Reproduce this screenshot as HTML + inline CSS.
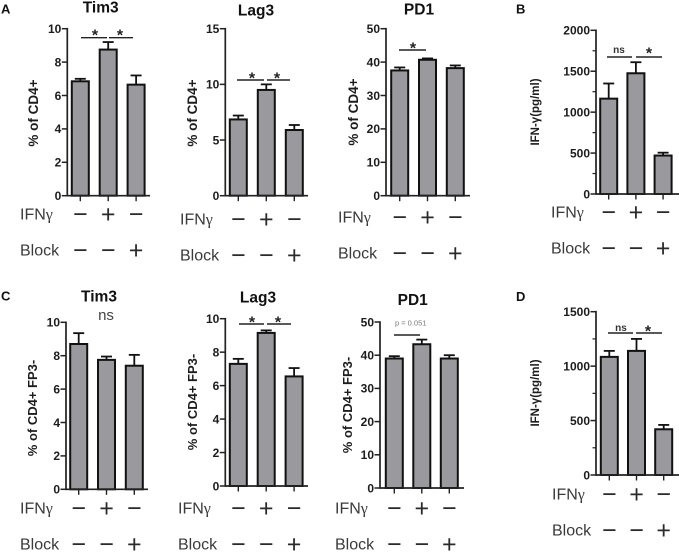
<!DOCTYPE html>
<html lang="en">
<head>
<meta charset="utf-8">
<title>Checkpoint receptor expression and IFN-γ panels</title>
<style>
html,body{margin:0;padding:0;background:#fff;}
svg{display:block;font-family:"Liberation Sans",sans-serif;filter:blur(0.3px);}
</style>
</head>
<body>
<svg id="figure" width="679" height="552" viewBox="0 0 679 552" xmlns="http://www.w3.org/2000/svg"></svg>
<script>
// Row markers shown under each chart
const ifnRow = ['−', '+', '−'];
const blockRow = ['−', '−', '+'];

// Panel A
const aTim3Values = [6.85, 8.75, 6.65];
const aTim3Upper = [7.0, 9.2, 7.2];
const aTim3Ticks = [0, 2, 4, 6, 8, 10];
const aLag3Values = [6.85, 9.5, 5.9];
const aLag3Upper = [7.2, 10.0, 6.35];
const aLag3Ticks = [0, 5, 10, 15];
const aPd1Values = [37.5, 40.7, 38.2];
const aPd1Upper = [38.4, 41.1, 39.0];
const aPd1Ticks = [0, 10, 20, 30, 40, 50];

// Panel B
const bIfnValues = [1165, 1475, 470];
const bIfnUpper = [1350, 1610, 505];
const bIfnTicks = [0, 500, 1000, 1500, 2000];
const bIfnMinorTicks = [250, 750, 1250, 1750];

// Panel C
const cTim3Values = [8.7, 7.75, 7.4];
const cTim3Upper = [9.35, 7.95, 8.05];
const cTim3Ticks = [0, 2, 4, 6, 8, 10];
const cLag3Values = [7.3, 9.15, 6.55];
const cLag3Upper = [7.6, 9.3, 7.05];
const cLag3Ticks = [0, 2, 4, 6, 8, 10];
const cPd1Values = [39, 43.3, 39];
const cPd1Upper = [39.7, 44.7, 40];
const cPd1Ticks = [0, 10, 20, 30, 40, 50];

// Panel D
const dIfnValues = [1085, 1140, 420];
const dIfnUpper = [1140, 1250, 460];
const dIfnTicks = [0, 500, 1000, 1500];
const dIfnMinorTicks = [250, 750, 1250];

const panels = [
  {id:'a-tim3', title:'Tim3', titleX:100.7, titleY:12.5, values:aTim3Values, upper:aTim3Upper, ticks:aTim3Ticks, minor:[],
   axisX:67.3, axisEnd:150, y0:195.7, yTop:28.7, first:80.3, step:27.9,
   yTitle:'% of CD4+', yTitleX:38, yTitleY:113, yTitleSize:13.5,
   rowX:20, ifnY:214, blockY:250,
   lines:[[81,107,37.7],[109,133,37.7]], stars:[[95,32],[120,32]]},
  {id:'a-lag3', title:'Lag3', titleX:256, titleY:15.5, values:aLag3Values, upper:aLag3Upper, ticks:aLag3Ticks, minor:[],
   axisX:225.3, axisEnd:308, y0:195.7, yTop:28.7, first:238.3, step:28,
   yTitle:'% of CD4+', yTitleX:197, yTitleY:113, yTitleSize:13.5,
   rowX:180, ifnY:219, blockY:255,
   lines:[[237,264,80],[267,290,80]], stars:[[252,75],[277,75]]},
  {id:'a-pd1', title:'PD1', titleX:419, titleY:14.5, values:aPd1Values, upper:aPd1Upper, ticks:aPd1Ticks, minor:[],
   axisX:386, axisEnd:470, y0:195.7, yTop:28.7, first:399.7, step:27.8,
   yTitle:'% of CD4+', yTitleX:358, yTitleY:112, yTitleSize:13.5,
   rowX:338, ifnY:217, blockY:253,
   lines:[[399,426,50]], stars:[[413,45]]},
  {id:'b-ifn', title:'', values:bIfnValues, upper:bIfnUpper, ticks:bIfnTicks, minor:bIfnMinorTicks,
   axisX:596, axisEnd:680, y0:194, yTop:30.3, first:608.7, step:27.2,
   yTitle:'IFN-γ(pg/ml)', yTitleX:539, yTitleY:112, yTitleSize:11.5,
   rowX:551, ifnY:212, blockY:248,
   lines:[[607,632,57],[636,662,57]], ns:[[619,50]], stars:[[649,50]]},
  {id:'c-tim3', title:'Tim3', titleX:99, titleY:301.5, values:cTim3Values, upper:cTim3Upper, ticks:cTim3Ticks, minor:[],
   axisX:66, axisEnd:148, y0:489.3, yTop:322.3, first:78.7, step:27.8,
   yTitle:'% of CD4+ FP3-', yTitleX:37, yTitleY:408, yTitleSize:13,
   rowX:20, ifnY:508, blockY:544,
   lines:[], stars:[], bigNs:[106,320]},
  {id:'c-lag3', title:'Lag3', titleX:258, titleY:302.7, values:cLag3Values, upper:cLag3Upper, ticks:cLag3Ticks, minor:[],
   axisX:225.3, axisEnd:308, y0:486, yTop:318.7, first:238.3, step:27.9,
   yTitle:'% of CD4+ FP3-', yTitleX:197, yTitleY:402, yTitleSize:13,
   rowX:178, ifnY:508, blockY:544,
   lines:[[239,264,324],[267,291,324]], stars:[[252,319],[278,319]]},
  {id:'c-pd1', title:'PD1', titleX:412.7, titleY:305, values:cPd1Values, upper:cPd1Upper, ticks:cPd1Ticks, minor:[],
   axisX:380, axisEnd:464, y0:488, yTop:322, first:394.3, step:27.5,
   yTitle:'% of CD4+ FP3-', yTitleX:352, yTitleY:405, yTitleSize:13,
   rowX:335, ifnY:508, blockY:544,
   lines:[[394,420,335]], stars:[], pValue:[410.7,325.5]},
  {id:'d-ifn', title:'', values:dIfnValues, upper:dIfnUpper, ticks:dIfnTicks, minor:dIfnMinorTicks,
   axisX:596, axisEnd:680, y0:475, yTop:311.7, first:609.3, step:27.2,
   yTitle:'IFN-γ(pg/ml)', yTitleX:539, yTitleY:393, yTitleSize:11.5,
   rowX:552, ifnY:494, blockY:530,
   lines:[[608,633,333],[636,662,333]], ns:[[621,328]], stars:[[648,328]]}
];

const letters = [['A',1,13.5],['B',516,13.5],['C',1,300.5],['D',516,301]];

const SVG_NS = 'http://www.w3.org/2000/svg';
const root = document.getElementById('figure');

function svgEl(tag, attrs, parent, content) {
  const node = document.createElementNS(SVG_NS, tag);
  for (const key in attrs) node.setAttribute(key, attrs[key]);
  if (content !== undefined) node.textContent = content;
  parent.appendChild(node);
  return node;
}

function drawRow(group, p, label, marks, y, rowName) {
  const text = svgEl('text', {x:p.rowX, y:y + 5.5, 'font-size':16, fill:'#3a3a3a'}, group);
  
  
  if (label === 'IFN') {
    svgEl('tspan', {}, text, 'IFN');
    svgEl('tspan', {'font-family':'"Liberation Serif",serif'}, text, 'γ');
  } else {
    text.textContent = label;
  }
  marks.forEach(function (mark, i) {
    const glyph = svgEl('text', {x:p.first + i * p.step, y:y + 8.5, 'font-size':25, 'text-anchor':'middle', fill:'#2a2a2a'}, group, mark);
    
    
  });
}

letters.forEach(function (item) {
  const letter = svgEl('text', {x:item[1], y:item[2], 'font-size':13, 'font-weight':'bold', fill:'#111'}, root, item[0]);
  
  
});

panels.forEach(function (p) {
  const group = svgEl('g', {}, root);
  
  

  const yMax = p.ticks[p.ticks.length - 1];
  const yScale = function (v) { return p.y0 - (v / yMax) * (p.y0 - p.yTop); };
  const xScale = function (i) { return p.first + i * p.step; };
  const barWidth = 17;

  p.values.forEach(function (value, i) {
    const cx = xScale(i);
    const stem = svgEl('line', {x1:cx, x2:cx, y1:yScale(value), y2:yScale(p.upper[i]), stroke:'#111', 'stroke-width':1.8}, group);
    
    
    const cap = svgEl('line', {x1:cx - 5.5, x2:cx + 5.5, y1:yScale(p.upper[i]), y2:yScale(p.upper[i]), stroke:'#111', 'stroke-width':1.8}, group);
    
    
    const bar = svgEl('rect', {x:cx - barWidth / 2, y:yScale(value), width:barWidth, height:p.y0 - yScale(value), fill:'#9a9a9e', stroke:'#111', 'stroke-width':2}, group);
    
    
    const xTick = svgEl('line', {x1:cx, x2:cx, y1:p.y0, y2:p.y0 + 5.5, stroke:'#222', 'stroke-width':1.4}, group);
    
    
  });

  const yAxis = svgEl('line', {x1:p.axisX, x2:p.axisX, y1:p.yTop - 0.8, y2:p.y0 + 0.8, stroke:'#222', 'stroke-width':1.7}, group);
  
  
  const xAxis = svgEl('line', {x1:p.axisX, x2:p.axisEnd, y1:p.y0, y2:p.y0, stroke:'#222', 'stroke-width':1.7}, group);
  
  

  p.ticks.forEach(function (tick) {
    const mark = svgEl('line', {x1:p.axisX - 5.5, x2:p.axisX, y1:yScale(tick), y2:yScale(tick), stroke:'#222', 'stroke-width':1.5}, group);
    
    
    const label = svgEl('text', {x:p.axisX - 6, y:yScale(tick) + 4.3, 'font-size':12, 'font-weight':'bold', 'text-anchor':'end', fill:'#1c1c1c'}, group, String(tick));
    
    
  });
  p.minor.forEach(function (tick) {
    const mark = svgEl('line', {x1:p.axisX - 3.5, x2:p.axisX, y1:yScale(tick), y2:yScale(tick), stroke:'#222', 'stroke-width':1.2}, group);
    
    
  });

  if (p.title) {
    const title = svgEl('text', {x:p.titleX, y:p.titleY, 'font-size':15.5, 'font-weight':'bold', 'text-anchor':'middle', fill:'#111'}, group, p.title);
    
    
  }

  const yTitle = svgEl('text', {
    x:p.yTitleX, y:p.yTitleY, 'font-size':p.yTitleSize, 'font-weight':'bold', 'text-anchor':'middle', fill:'#1c1c1c',
    transform:'rotate(-90 ' + p.yTitleX + ' ' + p.yTitleY + ')'
  }, group, p.yTitle);
  
  

  p.lines.forEach(function (l) {
    const sig = svgEl('line', {x1:l[0], x2:l[1], y1:l[2], y2:l[2], stroke:'#222', 'stroke-width':1.4}, group);
    
    
  });
  p.stars.forEach(function (s) {
    const star = svgEl('text', {x:s[0], y:s[1] + 8.5, 'font-size':16, 'font-weight':'bold', 'text-anchor':'middle', fill:'#222'}, group, '*');
    
    
  });
  (p.ns || []).forEach(function (s) {
    const ns = svgEl('text', {x:s[0], y:s[1] + 3, 'font-size':10, 'font-weight':'bold', 'text-anchor':'middle', fill:'#333'}, group, 'ns');
    
    
  });
  if (p.bigNs) {
    const bigNs = svgEl('text', {x:p.bigNs[0], y:p.bigNs[1], 'font-size':15, 'text-anchor':'middle', fill:'#444'}, group, 'ns');
    
    
  }
  if (p.pValue) {
    const pv = svgEl('text', {x:p.pValue[0], y:p.pValue[1], 'font-size':7.5, 'text-anchor':'middle', fill:'#777'}, group, 'p = 0.051');
    
    
  }

  drawRow(group, p, 'IFN', ifnRow, p.ifnY, p.id + '-ifn-row');
  drawRow(group, p, 'Block', blockRow, p.blockY, p.id + '-block-row');
});
</script>
</body>
</html>
